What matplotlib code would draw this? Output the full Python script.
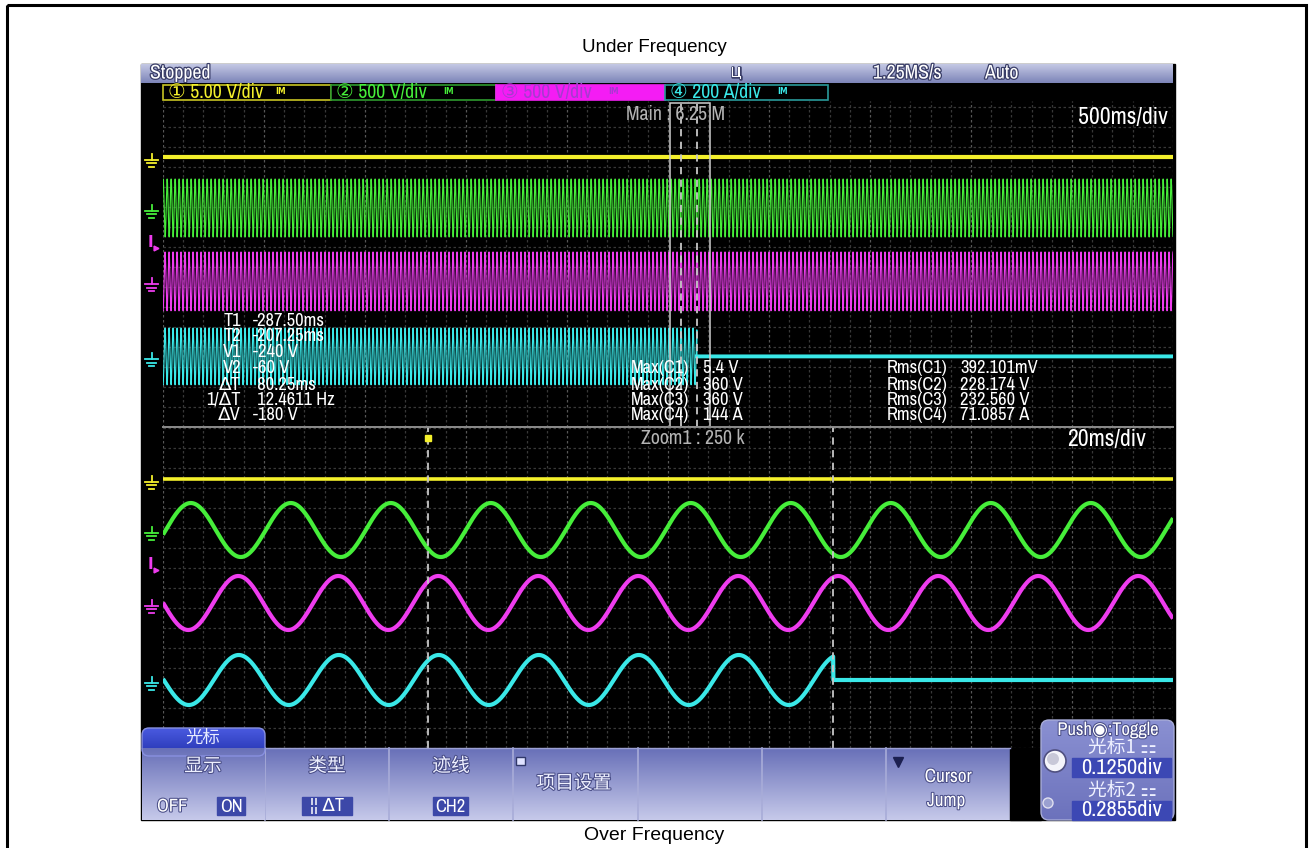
import numpy as np
import matplotlib
matplotlib.use("Agg")
import matplotlib.pyplot as plt
from matplotlib.patches import Rectangle, FancyBboxPatch, Circle
from matplotlib import transforms
from matplotlib import font_manager as fm
import matplotlib.patheffects as pe

# ---------------- data ----------------
title_top = "Under Frequency"
title_bottom = "Over Frequency"
channel_colors = ["#f4f02c", "#46ee3a", "#ee3cee", "#3ae8e8"]
channel_box_labels = ["\u2460 5.00 V/div", "\u2461 500 V/div", "\u2462 500 V/div", "\u2463 200 A/div"]

top_ms_per_div = 500
bottom_ms_per_div = 20
top_left_ms = -2850
zoom_left_ms = -340
line_freq_hz = 50.5
cursor_ms = [-287.50, -207.25]
ch4_stop_ms = -207.25

# vertical positions in minor-grid units
top_offsets = [13.5, 10.95, 7.28, 3.53]
top_amps = [0.0, 1.45, 1.47, 1.42]
bottom_offsets = [13.45, 10.9, 7.25, 3.4]
bottom_amps = [0.0, 1.35, 1.35, 1.25]
peak_ms = [0.0, -334.5, -325.1, -325.0]

cursor_labels = ["T1", "T2", "V1", "V2", "\u0394T", "1/\u0394T", "\u0394V"]
cursor_values = ["-287.50ms", "-207.25ms", "-240 V", "-60 V", " 80.25ms", " 12.4611 Hz", "-180 V"]
max_labels = ["Max(C1)", "Max(C2)", "Max(C3)", "Max(C4)"]
max_values = ["5.4 V", "360 V", "360 V", "144 A"]
rms_labels = ["Rms(C1)", "Rms(C2)", "Rms(C3)", "Rms(C4)"]
rms_values = ["392.101mV", "228.174 V", "232.560 V", "71.0857 A"]

menu_titles = ["\u663e\u793a", "\u7c7b\u578b", "\u8ff9\u7ebf"]
knob_values = ["0.1250div", "0.2855div"]

# ---------------- fonts ----------------
COND = None
COND_STRETCH = "normal"
for f in fm.fontManager.ttflist:
    nm = f.name
    if (("Narrow" in nm or "Condensed" in nm) and "Mono" not in nm and "Serif" not in nm
            and f.style == "normal"):
        COND = nm
        break
if COND is None:
    for f in fm.fontManager.ttflist:
        if f.name in ("DejaVu Sans", "Noto Sans", "Roboto", "Open Sans") and \
                str(f.stretch) in ("condensed", "semi-condensed", "extra-condensed"):
            COND = f.name
            COND_STRETCH = str(f.stretch)
            break
if COND is None:
    COND = "Liberation Sans"
    SF = 0.88
else:
    SF = 0.95
LAT = [COND, "DejaVu Sans"]
CJK = ["Noto Sans CJK SC", "DejaVu Sans"]
ARIAL = ["Liberation Sans", "DejaVu Sans"]

W, H = 1309, 848
fig = plt.figure(figsize=(W / 100, H / 100), dpi=100)
fig.patch.set_facecolor("white")


def pix_axes(x0, y0, x1, y1, z):
    return fig.add_axes([x0 / W, 1 - y1 / H, (x1 - x0) / W, (y1 - y0) / H], zorder=z)


bg = fig.add_axes([0, 0, 1, 1], zorder=0)
bg.set_xlim(0, W); bg.set_ylim(H, 0); bg.axis("off")
ov = fig.add_axes([0, 0, 1, 1], zorder=5)
ov.set_xlim(0, W); ov.set_ylim(H, 0); ov.axis("off"); ov.patch.set_alpha(0)


def gradient(ax, x0, y0, x1, y1, ctop, cbot, clip=None, z=1):
    c1 = np.array(matplotlib.colors.to_rgb(ctop)); c2 = np.array(matplotlib.colors.to_rgb(cbot))
    f = np.linspace(0, 1, 64)[:, None, None]
    img = c1[None, None, :] * (1 - f) + c2[None, None, :] * f
    im = ax.imshow(img, extent=(x0, x1, y1, y0), origin="upper", aspect="auto", zorder=z,
                   interpolation="bilinear")
    if clip is not None:
        im.set_clip_path(clip)
    ax.set_xlim(0, W); ax.set_ylim(H, 0)
    return im


def txt(x, y, s, size=12, color="white", ha="left", va="center", fam=None, ax=None, **kw):
    if fam is None:
        fam = LAT
        size = size * SF
        kw.setdefault("fontstretch", COND_STRETCH)
    (ax or ov).text(x, y, s, fontsize=size, color=color, ha=ha, va=va, family=fam, **kw)


# outer frame
bg.add_patch(Rectangle((7, 5), 1299, 900, fill=False, ec="black", lw=2.2, zorder=1))
# titles
txt(654, 47, title_top, size=13.5, color="black", ha="center", fam=ARIAL, ax=bg)
txt(654, 840, title_bottom, size=14, color="black", ha="center", va="baseline", fam=ARIAL, ax=bg)

# screen
bg.add_patch(Rectangle((141, 64), 1034, 756, color="black", zorder=1))

# status bar
gradient(ov, 141, 64, 1173, 83, "#c4c8e4", "#7c84b8", z=1)
shadow = [pe.withStroke(linewidth=1.8, foreground="#3a3e68")]
txt(150, 73, "Stopped", size=15, path_effects=shadow)
txt(736, 73, "\u0426", size=10, ha="center", fam=["DejaVu Sans"], path_effects=shadow)
txt(873, 73, "1.25MS/s", size=15, path_effects=shadow)
txt(985, 73, "Auto", size=15, path_effects=shadow)

# channel boxes
box_x = [(163, 331), (331, 496), (496, 665), (665, 828)]
edge_cols = ["#c8c424", "#2e9a2e", "#f020f0", "#2a9a9a"]
face_cols = ["black", "black", "#f41cf4", "black"]
text_cols = ["#f4f02c", "#46ee3a", "#a63ad0", "#3ae8e8"]
for (a, b), ec, fc, tc, lab in zip(box_x, edge_cols, face_cols, text_cols, channel_box_labels):
    ov.add_patch(Rectangle((a, 85), b - a, 15, fc=fc, ec=ec, lw=1.2, zorder=2))
    txt(a + 5, 92.5, lab, size=15, color=tc, zorder=3)
    txt(a + 112, 91, "IM", size=5.5, color=tc, zorder=3, fam=["DejaVu Sans"], weight="bold")

# ---------------- panels ----------------
top = pix_axes(163, 101, 1173, 427, 2)
bot = pix_axes(163, 427, 1173, 748, 2)
top_xlim = (top_left_ms, top_left_ms + 10 * top_ms_per_div)
bot_xlim = (zoom_left_ms, zoom_left_ms + 10 * bottom_ms_per_div)
top.set_xlim(*top_xlim); top.set_ylim(0, 16.3)
bot.set_xlim(*bot_xlim); bot.set_ylim(0, 16.05)
for ax in (top, bot):
    ax.set_facecolor("black")
    ax.set_xticks([]); ax.set_yticks([])
    for s in ax.spines.values():
        s.set_visible(False)


def draw_grid(ax, xlim, step):
    xs = np.arange(xlim[0], xlim[1] + step * 0.5, step)
    for i, xv in enumerate(xs):
        major = i % 5 == 0
        ax.axvline(xv, color="#575757" if major else "#383838", lw=0.9, ls=(0, (2, 2)), zorder=0)
    for yv in np.arange(0, ax.get_ylim()[1], 1.0):
        ax.axhline(yv, color="#383838", lw=0.9, ls=(0, (2, 2)), zorder=0)


draw_grid(top, top_xlim, top_ms_per_div / 5)
draw_grid(bot, bot_xlim, bottom_ms_per_div / 5)


def wave(t, ch, offsets, amps):
    y = offsets[ch] + amps[ch] * np.cos(2 * np.pi * line_freq_hz * (t - peak_ms[ch]) / 1000.0)
    if ch == 3:
        y = np.where(t < ch4_stop_ms, y, offsets[ch])
    return y


t_top = np.linspace(top_xlim[0], top_xlim[1], 60001)
t_bot = np.linspace(bot_xlim[0], bot_xlim[1], 4001)
for ch in range(4):
    lw_t = 3.0 if ch == 0 else 0.85
    top.plot(t_top, wave(t_top, ch, top_offsets, top_amps), color=channel_colors[ch], lw=lw_t, zorder=3)
    bot.plot(t_bot, wave(t_bot, ch, bottom_offsets, bottom_amps), color=channel_colors[ch],
             lw=2.6 if ch == 0 else 3.0, zorder=3, solid_capstyle="butt")
# flat (tripped) part of CH4 in the main window is drawn as a solid trace
t_flat = t_top[t_top >= ch4_stop_ms]
top.plot(t_flat, wave(t_flat, 3, top_offsets, top_amps), color=channel_colors[3], lw=2.8, zorder=3)

# zoom window box and cursors in top panel
zw = 10 * bottom_ms_per_div
top.add_patch(Rectangle((zoom_left_ms, 0), zw, 16.2, fill=False, ec="#cfcfcf", lw=1.1, zorder=4))
for c in cursor_ms:
    top.axvline(c, color="#c8c8c8", lw=1.3, ls=(0, (4, 3)), zorder=5)
    bot.axvline(c, color="#c8c8c8", lw=1.3, ls=(0, (4, 3)), zorder=5)
bot.plot([cursor_ms[0]], [15.5], marker="s", ms=4.5, color=channel_colors[0], zorder=6)

# panel divider
ov.plot([163, 1173], [427, 427], color="#8c8c8c", lw=1.4, zorder=1)


# ground markers at the left edge
def ground(ax, yv, col):
    tr = transforms.blended_transform_factory(ov.transData, ax.transData)
    kw = dict(color=col, lw=1.3, transform=tr, clip_on=False, zorder=6)
    ax.plot([145, 158], [yv, yv], **kw)
    ax.plot([147, 156], [yv - 0.17, yv - 0.17], **kw)
    ax.plot([149, 154], [yv - 0.34, yv - 0.34], **kw)
    ax.plot([151.5, 151.5], [yv, yv + 0.3], **kw)


for ax, offs in ((top, top_offsets), (bot, bottom_offsets)):
    for ch in range(4):
        ground(ax, offs[ch] - 0.15, channel_colors[ch])
    tr = transforms.blended_transform_factory(ov.transData, ax.transData)
    ax.text(150, (offs[1] + offs[2]) / 2 + 0.1, "I", color=channel_colors[2], fontsize=11,
            weight="bold", family=["DejaVu Sans"], ha="center", va="center", transform=tr,
            clip_on=False, zorder=6)
    ax.plot([156], [(offs[1] + offs[2]) / 2 - 0.15], marker=">", ms=3.5, color=channel_colors[2],
            transform=tr, clip_on=False, zorder=6)

# ---------------- texts on screen ----------------
txt(626, 114, "Main : 6.25 M", size=15, color="#b4b4b4")
txt(1168, 117, "500ms/div", size=18, ha="right")
txt(641, 438, "Zoom1 : 250 k", size=15, color="#b4b4b4")
txt(1146, 439, "20ms/div", size=18, ha="right")

rows = [321, 336, 352, 368, 385, 400, 415]
for lab, val, y in zip(cursor_labels, cursor_values, rows):
    txt(241, y, lab, size=14, ha="right")
    txt(253, y, val, size=14)
for i in range(4):
    y = rows[3 + i]
    txt(631, y, max_labels[i], size=14)
    txt(703, y, max_values[i], size=14)
    txt(887, y, rms_labels[i], size=14)
    txt(960, y, rms_values[i], size=14)

# ---------------- menu ----------------
gradient(ov, 142, 748, 1010, 820, "#6870b8", "#c6c9ea", z=2)
for xb in [265, 389, 513, 638, 762, 886]:
    ov.plot([xb, xb], [748, 820], color="#a8acd8", lw=1.2, zorder=3)
ov.plot([142, 1010], [748, 748], color="#9ca0d4", lw=1.0, zorder=3)
ov.add_patch(Rectangle((1010, 748), 31, 72, color="black", zorder=2))

tab = FancyBboxPatch((142, 728), 123, 28, boxstyle="round,pad=0,rounding_size=7",
                     fc="none", ec="#8890e0", lw=1.0, zorder=4, transform=ov.transData)
ov.add_patch(tab)
gradient(ov, 142, 728, 265, 756, "#4a5ae0", "#2434b0", clip=tab, z=3)
gradient(ov, 142, 748, 265, 820, "#6870b8", "#c6c9ea", z=3)
txt(203, 738, "\u5149\u6807", size=12.5, ha="center", fam=CJK, color="#e8ecff", zorder=5)

mshadow = [pe.withStroke(linewidth=1.5, foreground="#4a4e88")]
for xc, s in zip([203, 327, 451], menu_titles):
    txt(xc, 766, s, size=13.5, ha="center", fam=CJK, color="#eef0ff", path_effects=mshadow, zorder=5)


def sel_box(x0, x1, label):
    ov.add_patch(Rectangle((x0, 797), x1 - x0, 18, color="#3c48a8", zorder=4))
    txt((x0 + x1) / 2, 806.5, label, size=14, ha="center", zorder=5)


txt(157, 806.5, "OFF", size=14, zorder=5, path_effects=mshadow)
sel_box(217, 245, "ON")
sel_box(302, 352, "\u00a6\u00a6 \u0394T")
sel_box(433, 468, "CH2")

ov.add_patch(Rectangle((516, 757), 9, 8, fc="#dfe2ff", ec="#30386a", lw=1.0, zorder=5))
txt(574, 783, "\u9879\u76ee\u8bbe\u7f6e", size=13.5, ha="center", fam=CJK, color="#eef0ff",
    path_effects=mshadow, zorder=5)
ov.plot([898], [762], marker="v", ms=7, color="#1c2050", zorder=5)
txt(948, 777, "Cursor", size=14.5, ha="center", zorder=5, path_effects=mshadow)
txt(946, 801, "Jump", size=14.5, ha="center", zorder=5, path_effects=mshadow)

# knob panel
kp = FancyBboxPatch((1041, 720), 133, 100, boxstyle="round,pad=0,rounding_size=8",
                    fc="none", ec="#a8acd8", lw=1.0, zorder=6, transform=ov.transData)
ov.add_patch(kp)
gradient(ov, 1041, 720, 1174, 820, "#8a90d2", "#6c72bc", clip=kp, z=5)
txt(1108, 730, "Push\u25c9:Toggle", size=14, ha="center", zorder=7, path_effects=mshadow)
txt(1122, 747, "\u5149\u6807" + "1 \u268f", size=13.5, ha="center", fam=CJK, color="#eef0ff", zorder=7)
txt(1122, 790, "\u5149\u6807" + "2 \u268f", size=13.5, ha="center", fam=CJK, color="#eef0ff", zorder=7)
for yb, val in zip([758, 801], knob_values):
    ov.add_patch(Rectangle((1072, yb), 99, 19, color="#3c48b4", zorder=7))
    txt(1122, yb + 9.5, val, size=17, ha="center", zorder=8)
ov.add_patch(Circle((1055, 761), 11, fc="#f4f4fa", ec="#505080", lw=1.2, zorder=8))
ov.add_patch(Circle((1053, 759), 6, fc="#c8c8d8", ec="none", zorder=9))
ov.add_patch(Circle((1048, 803), 5, fc="#9aa0d0", ec="#e0e0f0", lw=1.0, zorder=8))

fig.savefig("out.png", dpi=100, facecolor="white")
